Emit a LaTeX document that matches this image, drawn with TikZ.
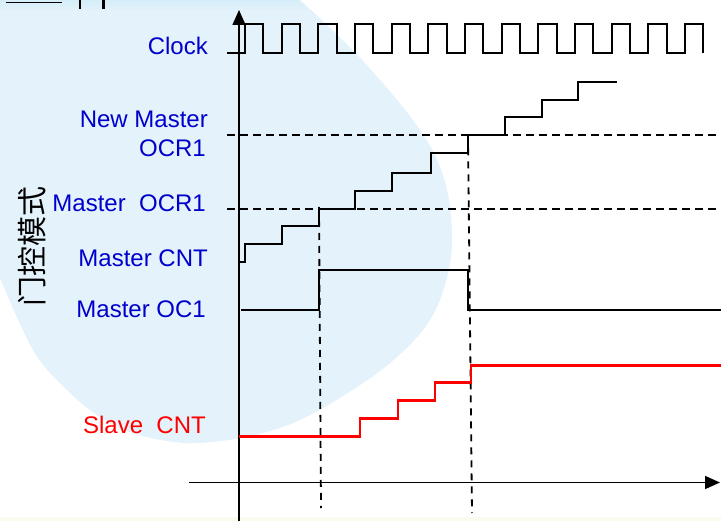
\documentclass[tikz,border=0pt]{standalone}
\usepackage{fontspec}
\setmainfont{Liberation Sans}
\newfontfamily\cjkfont{Noto Sans CJK SC}
\usetikzlibrary{arrows.meta}
\definecolor{lblue}{RGB}{228,242,251}
\definecolor{tband}{RGB}{212,237,248}
\definecolor{cream}{RGB}{251,250,238}
\definecolor{lbltxt}{RGB}{0,0,204}
\definecolor{sigred}{RGB}{255,0,0}
\tikzset{
  lbl/.style={font=\fontsize{24}{28}\selectfont, text=lbltxt, anchor=base east, inner sep=0pt},
  redlbl/.style={lbl, text=sigred},
  axisline/.style={line width=1.6pt, -{Triangle[length=15pt,width=13pt]}},
  sig/.style={line width=2pt, line join=miter},
  redsig/.style={line width=2.4pt, draw=sigred},
  dashline/.style={line width=1.8pt, dash pattern=on 8pt off 5pt},
}
\begin{document}
\begin{tikzpicture}[x=1pt,y=-1pt]
\useasboundingbox (0,0) rectangle (721,521);
% background
\fill[white] (0,0) rectangle (721,521);
\fill[lblue] plot[smooth, tension=0.6] coordinates {(298,-2) (362,60) (420,130) (445,182) (452,240) (445,285) (428,323) (397,357) (357,387) (300,420) (250,436) (200,443) (167,441) (133,433) (100,417) (67,390) (33,350) (-2,273)} -- (-2,-2) -- cycle;
\shade[top color=tband, bottom color=lblue] (-1,-1) -- (298,-1) -- (309,12) -- (-1,12) -- cycle;
\fill[cream] (0,517) rectangle (721,521);
% cut-off title fragments at the top
\draw[line width=1.8pt] (6,2.6) -- (62,2.6);
\draw[line width=2.6pt] (80,0) -- (80,9.3);
\draw[line width=2.6pt] (103.3,0) -- (103.3,9.3);

% axes
\coordinate (yb) at (239,521);
\coordinate (yt) at (239,10);
\coordinate (xl) at (189,482.5);
\coordinate (xr) at (720,482.5);
\draw[axisline] (yb) -- (yt);
\draw[axisline] (xl) -- (xr);

% labels
\node[lbl] (clk) at (208,55) {Clock};
\node[lbl] (nm) at (208,128) {New Master};
\node[lbl] (nocr) at (206,157) {OCR1};
\node[lbl] (mocr) at (206,212) {Master~~OCR1};
\node[lbl] (mcnt) at (208,267) {Master CNT};
\node[lbl] (moc) at (206,318) {Master OC1};
\node[redlbl] (scnt) at (206,434) {Slave~~CNT};
\node[rotate=90, inner sep=0pt, font=\cjkfont\fontsize{30}{30}\selectfont] (mode) at (32,246.5) {门控模式};

% dashed reference lines
\coordinate (h1a) at (227,209);
\coordinate (h1b) at (721,209);
\coordinate (h2a) at (227,135.3);
\coordinate (h2b) at (721,135.3);
\draw[dashline] (h1a) -- (h1b);
\draw[dashline] (h2a) -- (h2b);
\coordinate (v1a) at (319,207);
\coordinate (v1b) at (321,508);
\coordinate (v2a) at (468,135.3);
\coordinate (v2b) at (472,513);
\draw[dashline, dash pattern=on 7pt off 6pt] (v1a) -- (v1b);
\draw[dashline, dash pattern=on 7pt off 6pt] (v2a) -- (v2b);

% clock
\draw[sig] (227,53.3) -- (245,53.3)
  \foreach \i in {0,...,12} {
    -- ({245+36.667*\i},24) -- ({263.3+36.667*\i},24) -- ({263.3+36.667*\i},53.3)
    \ifnum\i<12 -- ({281.667+36.667*\i},53.3)\fi
  };

% Master CNT staircase
\draw[sig] (240,261.7) -- (245,261.7) -- (245,244) -- (281.7,244) -- (281.7,225.7)
  -- (319,225.7) -- (319,209) -- (355,209) -- (355,190.7) -- (391.7,190.7)
  -- (391.7,172.7) -- (431,172.7) -- (431,153) -- (468,153) -- (468,135.3)
  -- (505,135.3) -- (505,117.3) -- (541.7,117.3) -- (541.7,99.7) -- (578.3,99.7)
  -- (578.3,81.7) -- (616.7,81.7);

% Master OC1
\draw[sig] (241,310.5) -- (318.5,310.5) -- (318.5,270) -- (467.5,270)
  -- (467.5,310.5) -- (721,310.5);

% Slave CNT
\draw[redsig] (239,436.5) -- (360,436.5) -- (360,418.5) -- (398,418.5)
  -- (398,400.5) -- (435,400.5) -- (435,382.5) -- (471,382.5)
  -- (471,365.5) -- (721,365.5);
\end{tikzpicture}
\end{document}
